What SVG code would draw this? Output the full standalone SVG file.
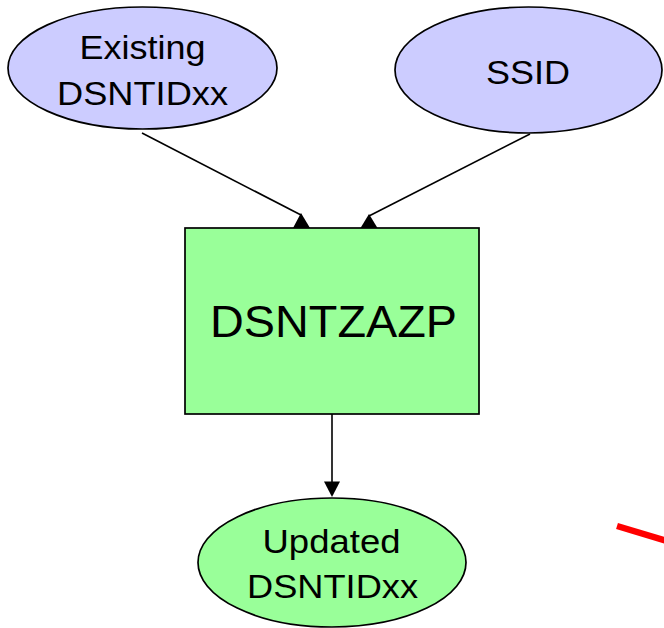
<svg xmlns="http://www.w3.org/2000/svg" width="664" height="628" viewBox="0 0 664 628">
<style>
.blue{fill:#CCCCFF;stroke:#000;stroke-width:1.7}
.green{fill:#99FF99;stroke:#000;stroke-width:1.7}
.t{font-family:"Liberation Sans",Arial,sans-serif;fill:#000;text-anchor:middle}
.c{stroke:#000;stroke-width:1.6;fill:none}
.h{fill:#000;stroke:none}
</style>
<rect width="664" height="628" fill="#fff"/>
<g id="existing">
<ellipse class="blue" cx="142.5" cy="68" rx="134.5" ry="61"/>
<text class="t" x="142.5" y="58.5" font-size="33" textLength="126" lengthAdjust="spacingAndGlyphs">Existing</text>
<text class="t" x="142.5" y="105" font-size="34" textLength="171" lengthAdjust="spacingAndGlyphs">DSNTIDxx</text>
</g>
<g id="ssid">
<ellipse class="blue" cx="528.5" cy="70" rx="133.5" ry="63"/>
<text class="t" x="528" y="84" font-size="34" textLength="84" lengthAdjust="spacingAndGlyphs">SSID</text>
</g>
<g id="dsntzazp">
<rect class="green" x="185" y="228" width="294" height="186"/>
<text class="t" x="333.5" y="337" font-size="45" textLength="247" lengthAdjust="spacingAndGlyphs">DSNTZAZP</text>
</g>
<g id="updated">
<ellipse class="green" cx="332" cy="562.5" rx="134" ry="64.5"/>
<text class="t" x="331.5" y="552.5" font-size="34" textLength="138" lengthAdjust="spacingAndGlyphs">Updated</text>
<text class="t" x="332.5" y="597.5" font-size="34" textLength="171" lengthAdjust="spacingAndGlyphs">DSNTIDxx</text>
</g>
<g id="connectors">
<line class="c" x1="142" y1="133" x2="301" y2="215"/>
<polygon class="h" points="301,213 293,228 310,228"/>
<line class="c" x1="530" y1="134" x2="369" y2="216"/>
<polygon class="h" points="369,214 360.5,228 377.5,228"/>
<line class="c" x1="332" y1="414" x2="332" y2="483"/>
<polygon class="h" points="324,481.5 340,481.5 332,497"/>
</g>
<line x1="617" y1="526" x2="690" y2="548" stroke="#FF0000" stroke-width="6.5"/>
</svg>
